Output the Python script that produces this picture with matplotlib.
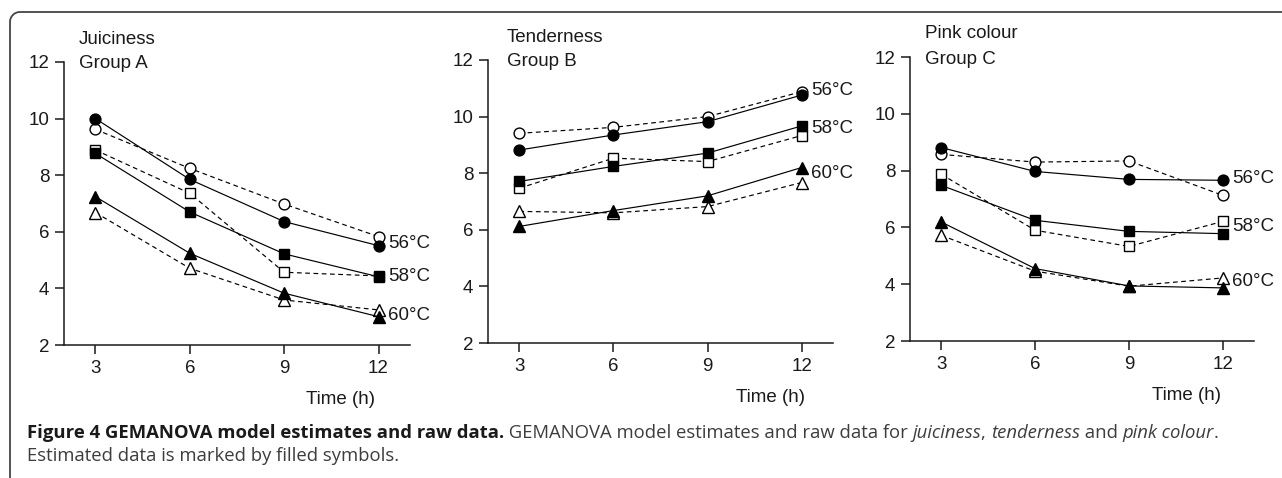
import matplotlib

matplotlib.use("Agg")
import matplotlib.pyplot as plt
import numpy as np
from matplotlib.lines import Line2D

# ---- data (filled = model estimate, open = raw data) ----
times = [3, 6, 9, 12]
temps = ["56°C", "58°C", "60°C"]
markers = ["o", "s", "^"]

juiciness_est = [[10.00, 7.85, 6.36, 5.51],
                 [8.77, 6.70, 5.22, 4.41],
                 [7.24, 5.24, 3.83, 3.00]]
juiciness_raw = [[9.62, 8.24, 6.98, 5.83],
                 [8.89, 7.36, 4.57, 4.44],
                 [6.68, 4.71, 3.59, 3.24]]

tenderness_est = [[8.82, 9.35, 9.82, 10.76],
                  [7.71, 8.24, 8.71, 9.67],
                  [6.12, 6.68, 7.20, 8.20]]
tenderness_raw = [[9.41, 9.62, 10.00, 10.88],
                  [7.47, 8.53, 8.41, 9.33],
                  [6.65, 6.60, 6.82, 7.67]]

pink_est = [[8.81, 7.97, 7.69, 7.66],
            [7.48, 6.25, 5.86, 5.78],
            [6.19, 4.55, 3.94, 3.87]]
pink_raw = [[8.57, 8.30, 8.34, 7.13],
            [7.87, 5.90, 5.33, 6.21],
            [5.72, 4.46, 3.93, 4.22]]

titles = [("Juiciness", "Group A"), ("Tenderness", "Group B"), ("Pink colour", "Group C")]
yticks = [2, 4, 6, 8, 10, 12]

W, H = 1282, 478
FONT = "Liberation Sans"
FS = 13.5
# label heights (data units) for the temperature tags at the right end
tag_y = [[5.60, 4.42, 3.06], [10.92, 9.59, 8.00], [7.73, 6.02, 4.09]]
# axes boxes in pixels: left, right, top, bottom
boxes = [(64, 410, 62, 345), (488, 833, 60, 343), (910, 1254, 57, 341)]
title_px = [(79, 40, 64), (507, 37, 62), (925, 34, 59)]
xlabel_px = [(341, 400), (771, 398), (1187, 395)]

fig = plt.figure(figsize=(W / 100, H / 100), dpi=100)
fig.patch.set_facecolor("white")

panels = [(juiciness_est, juiciness_raw), (tenderness_est, tenderness_raw), (pink_est, pink_raw)]
msize = {"o": 7.8, "s": 6.8, "^": 8.3}

for i, (est, raw) in enumerate(panels):
    l, r, t, b = boxes[i]
    ax = fig.add_axes([l / W, 1 - b / H, (r - l) / W, (b - t) / H])
    for k in range(3):
        m = markers[k]
        ax.plot(times, raw[k], color="black", lw=0.85, dashes=(4, 3), marker=m,
                ms=msize[m], mfc="white", mec="black", mew=1.0, zorder=2, clip_on=False)
        ax.plot(times, est[k], color="black", lw=0.85, marker=m,
                ms=msize[m], mfc="black", mec="black", mew=1.0, zorder=3, clip_on=False)
        ax.annotate(temps[k], xy=(12, tag_y[i][k]), xytext=(7, 0), textcoords="offset points",
                    ha="left", va="center", fontsize=FS, family=FONT, color="#1a1a1a")
    ax.set_xlim(2, 13)
    ax.set_ylim(2, 12)
    ax.set_xticks(times)
    ax.set_yticks(yticks)
    for s in ("top", "right"):
        ax.spines[s].set_visible(False)
    for s in ("left", "bottom"):
        ax.spines[s].set_linewidth(1.1)
        ax.spines[s].set_color("#1a1a1a")
    ax.tick_params(axis="both", direction="out", length=6.5, width=1.1, color="#1a1a1a",
                   labelsize=FS, labelcolor="#1a1a1a")
    ax.tick_params(axis="y", pad=4)
    ax.tick_params(axis="x", pad=4)
    for lab in ax.get_xticklabels() + ax.get_yticklabels():
        lab.set_family(FONT)
    ax.patch.set_alpha(0)

    tx, ty1, ty2 = title_px[i]
    fig.text(tx / W, 1 - ty1 / H, titles[i][0], ha="left", va="center", fontsize=FS,
             family=FONT, color="#1a1a1a")
    fig.text(tx / W, 1 - ty2 / H, titles[i][1], ha="left", va="center", fontsize=FS,
             family=FONT, color="#1a1a1a")
    lx, ly = xlabel_px[i]
    fig.text(lx / W, 1 - ly / H, "Time (h)", ha="center", va="center", fontsize=FS,
             family=FONT, color="#1a1a1a")

# ---- frame: top-left rounded corner, open to the right and bottom ----
rad = 10
ang = np.linspace(np.pi, np.pi / 2, 20)
px = np.concatenate([[10], 10 + rad + rad * np.cos(ang), [W]])
py = np.concatenate([[H], 12 + rad - rad * np.sin(ang), [12]])
fig.add_artist(Line2D(px / W, 1 - py / H, transform=fig.transFigure, color="#444444", lw=1.3))

# ---- caption ----
renderer = fig.canvas.get_renderer()
CAP = "Open Sans"
cap_size = 13.3


def caption_line(pieces, x_px, y_px):
    x = x_px / W
    for txt, weight, style, col in pieces:
        t = fig.text(x, 1 - y_px / H, txt, ha="left", va="center", fontsize=cap_size,
                     family=CAP, fontweight=weight, fontstyle=style, color=col)
        x = fig.transFigure.inverted().transform((t.get_window_extent(renderer).x1, 0))[0]


dark, grey = "#1a1a1a", "#3d3d3d"
caption_line([("Figure 4 GEMANOVA model estimates and raw data.", "bold", "normal", dark),
              (" GEMANOVA model estimates and raw data for ", "normal", "normal", grey),
              ("juiciness", "normal", "italic", grey),
              (", ", "normal", "normal", grey),
              ("tenderness", "normal", "italic", grey),
              (" and ", "normal", "normal", grey),
              ("pink colour", "normal", "italic", grey),
              (".", "normal", "normal", grey)], 27, 433)
caption_line([("Estimated data is marked by filled symbols.", "normal", "normal", grey)], 27, 456)

fig.savefig("out.png", dpi=100, facecolor="white")
